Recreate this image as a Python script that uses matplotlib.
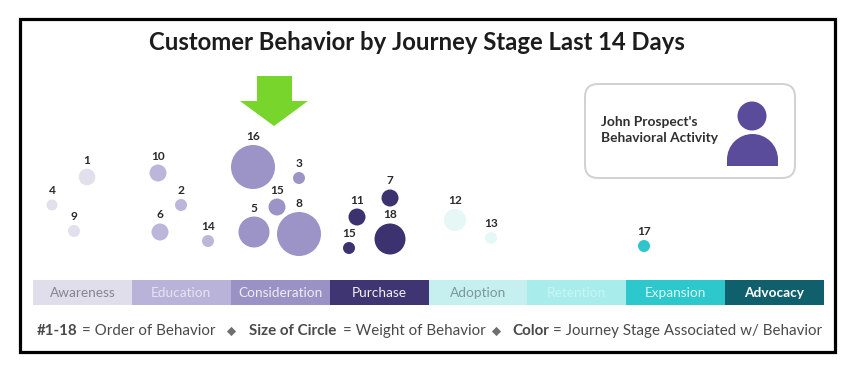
import matplotlib
matplotlib.use("Agg")
import matplotlib.pyplot as plt
from matplotlib.patches import Rectangle, FancyBboxPatch, Polygon, Circle, Wedge

plt.rcParams['font.family'] = ['Lato', 'Open Sans', 'DejaVu Sans']

stages = ["Awareness", "Education", "Consideration", "Purchase",
          "Adoption", "Retention", "Expansion", "Advocacy"]
stage_colors = ["#e0deeb", "#b9b3d9", "#9a92c5", "#3f3573",
                "#c6f0f0", "#a9ecec", "#2cc8cc", "#0f5f6c"]
stage_text = ["#85858f", "#e6e4f2", "#eeedf6", "#f2f1f8",
              "#7d979b", "#c8f5f5", "#dcf8f8", "#ffffff"]

# order label, x, y, radius (weight) and stage index of each behavior
order = [1, 4, 9, 10, 2, 6, 14, 16, 3, 15, 5, 8, 11, 7, 15, 18, 12, 13, 17]
xs = [87, 52, 74, 158, 181, 160, 208, 253, 299, 277, 254, 299, 357, 390, 349, 390, 455, 491, 644]
ys = [177, 205, 231, 173, 205, 232, 241, 167, 178, 207, 232, 234, 217, 198, 248, 239, 220, 238, 246]
weight = [8.3, 5.5, 6, 8.5, 6, 8.5, 6, 22, 6, 8.5, 15.5, 22, 8.5, 8.5, 6, 15.5, 11, 6, 6]
stage_of = [0, 0, 0, 1, 1, 1, 1, 2, 2, 2, 2, 2, 3, 3, 3, 3, 4, 4, 6]
bubble_colors = ["#e2e0ec", "#bcb6da", "#9c94c6", "#3d3270",
                 "#e6f8f6", "#a9ecec", "#2cc6cc", "#0f5f6c"]

footer_parts = [("#1-18", 37, "bold"), ("= Order of Behavior", 82, "normal"),
                ("Size of Circle", 249, "bold"), ("= Weight of Behavior", 343, "normal"),
                ("Color", 512, "bold"), ("= Journey Stage Associated w/ Behavior", 553, "normal")]
diamond_x = [231, 496]

PX = 0.72  # points per pixel at dpi 100

fig = plt.figure(figsize=(8.54, 3.7), dpi=100)
ax = fig.add_axes([0, 0, 1, 1])
ax.set_xlim(0, 854)
ax.set_ylim(370, 0)
ax.axis("off")

ax.add_patch(Rectangle((20.5, 19), 815, 333, fc="white", ec="black", lw=3.2 * PX))

ax.text(417, 42, "Customer Behavior by Journey Stage Last 14 Days", ha="center", va="center",
        fontsize=17.2, fontweight="bold", color="#1c1c1c")

# green arrow
ax.add_patch(Polygon([(257, 76), (292, 76), (292, 101), (308, 101), (274, 126),
                      (240, 101), (257, 101)], closed=True, fc="#78d52b", ec="none"))

# bubbles
colors = [bubble_colors[s] for s in stage_of]
sizes = [(2 * r * PX) ** 2 for r in weight]
ax.scatter(xs, ys, s=sizes, c=colors, linewidths=0, zorder=3)
for n, x, y, r in zip(order, xs, ys, weight):
    ax.text(x, y - r - 8.5, str(n), ha="center", va="center", fontsize=8.6,
            fontweight="bold", color="#2a2a2a", zorder=4)

# prospect card
ax.add_patch(FancyBboxPatch((585, 84), 210, 94, boxstyle="round,pad=0,rounding_size=13",
                            fc="white", ec="#d2d2d2", lw=2 * PX))
ax.text(601, 130, "John Prospect's\nBehavioral Activity", ha="left", va="center",
        fontsize=9.9, fontweight="bold", color="#2f2f2f", linespacing=1.3)
ax.add_patch(Circle((752, 116), 14.5, fc="#5b4b9b", ec="none"))
ax.add_patch(Wedge((752.5, 159.5), 25.5, 180, 360, fc="#5b4b9b", ec="none"))
ax.add_patch(Rectangle((727, 158), 51, 8, fc="#5b4b9b", ec="none"))

# journey stage strip
strip = fig.add_axes([33 / 854, 1 - 305 / 370, 791 / 854, 25 / 370])
strip.set_xlim(-0.5, len(stages) - 0.5)
strip.set_ylim(0, 1)
strip.axis("off")
strip.bar(range(len(stages)), [1] * len(stages), width=1, color=stage_colors, linewidth=0)
for i, name in enumerate(stages):
    strip.text(i, 0.48, name, ha="center", va="center", fontsize=9.8,
               color=stage_text[i], fontweight="bold" if name == "Advocacy" else "normal")

# footer
for text, x, weight_name in footer_parts:
    ax.text(x, 331, text, ha="left", va="center", fontsize=10.9,
            fontweight=weight_name, color="#4a4a4a")
ax.scatter(diamond_x, [331] * len(diamond_x), marker="D", s=22, c="#6f6f6f", linewidths=0)

fig.savefig("out.png", dpi=100)
plt.close()
